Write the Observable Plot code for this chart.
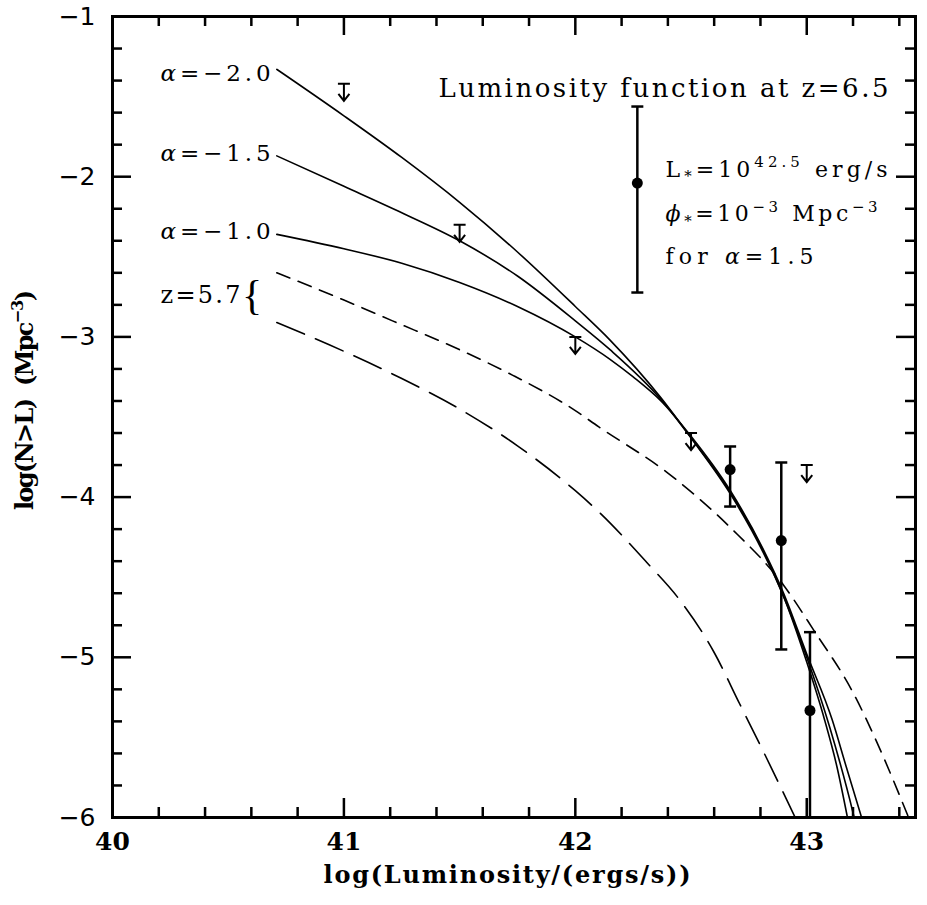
<!DOCTYPE html>
<html><head><meta charset="utf-8">
<script src="https://cdn.jsdelivr.net/npm/d3@7"></script>
<script src="https://cdn.jsdelivr.net/npm/@observablehq/plot@0.6"></script>
<style>html,body{margin:0;padding:0;background:#fff;} svg{display:block;}</style>
</head><body><div id="chart"></div>
<script>
// ---- data ----
const curveA20X = [40.71, 41.0, 41.25, 41.5, 41.75, 42.0, 42.15, 42.37, 42.5, 42.67, 42.81, 42.9, 43.0, 43.077, 43.13, 43.176];
const curveA20Y = [-1.33, -1.62, -1.88, -2.16, -2.47, -2.81, -3.02, -3.38, -3.63, -3.98, -4.34, -4.62, -5.03, -5.39, -5.68, -6.0];
const curveA15X = [40.71, 41.0, 41.25, 41.5, 41.75, 42.0, 42.15, 42.37, 42.5, 42.67, 42.81, 42.9, 43.0, 43.1, 43.2, 43.205];
const curveA15Y = [-1.87, -2.06, -2.225, -2.40, -2.62, -2.90, -3.08, -3.39, -3.63, -3.97, -4.33, -4.62, -5.0, -5.44, -5.97, -6.0];
const curveA10X = [40.71, 41.0, 41.25, 41.5, 41.75, 42.0, 42.15, 42.25, 42.37, 42.5, 42.67, 42.81, 42.9, 43.0, 43.11, 43.17, 43.237];
const curveA10Y = [-2.36, -2.45, -2.54, -2.66, -2.81, -3.00, -3.14, -3.25, -3.40, -3.62, -3.96, -4.32, -4.60, -4.98, -5.39, -5.68, -6.0];
const z57ShortX = [40.71, 41.0, 41.21, 41.5, 41.73, 42.0, 42.1, 42.4, 42.67, 42.9, 43.03, 43.2, 43.3, 43.44];
const z57ShortY = [-2.60, -2.77, -2.90, -3.08, -3.24, -3.46, -3.56, -3.85, -4.19, -4.55, -4.83, -5.22, -5.52, -6.0];
const z57LongX = [40.71, 41.0, 41.25, 41.5, 41.75, 42.0, 42.1, 42.31, 42.45, 42.6, 42.71, 42.82, 42.95];
const z57LongY = [-2.91, -3.09, -3.26, -3.45, -3.68, -3.96, -4.09, -4.41, -4.64, -4.97, -5.29, -5.61, -6.0];

const pointX = [42.268, 42.669, 42.89, 43.014];
const pointY = [-2.04, -3.828, -4.271, -5.332];
const pointHi = [-1.562, -3.684, -3.784, -4.843];
const pointLo = [-2.723, -4.059, -4.951, -6.4];

const limitX = [41.0, 41.5, 42.0, 42.5, 43.0];
const limitY = [-1.42, -2.30, -3.00, -3.60, -3.80];

const majorX = [40, 41, 42, 43];
const minorX = [40.2, 40.4, 40.6, 40.8, 41.2, 41.4, 41.6, 41.8, 42.2, 42.4, 42.6, 42.8, 43.2, 43.4];
const majorY = [-1, -2, -3, -4, -5, -6];
const minorY = [-1.2, -1.4, -1.6, -1.8, -2.2, -2.4, -2.6, -2.8, -3.2, -3.4, -3.6, -3.8, -4.2, -4.4, -4.6, -4.8, -5.2, -5.4, -5.6, -5.8];

const curveLabels = ["@{α}=−2.0", "@{α}=−1.5", "@{α}=−1.0"];
const curveLabelX = [40.683, 40.683, 40.683];
const curveLabelY = [-1.359, -1.858, -2.345];
const zLabel = ["z=5.7"];
const zLabelX = [40.553];
const zLabelY = [-2.742];
const braceLabel = ["{"];
const braceX = [40.603];
const braceY = [-2.74];
const titleText = ["Luminosity function at z=6.5"];
const titleX = [43.353];
const titleY = [-1.45];
const noteLines = ["L_{*}=10^{42.5} erg/s", "@{ϕ}_{*}=10^{−3} Mpc^{−3}", "for @{α}=1.5"];
const noteX = [42.39, 42.39, 42.39];
const noteY = [-1.955, -2.232, -2.503];
const xTitle = "log(Luminosity/(ergs/s))";
const yTitle = "log(N>L) \u00a0(Mpc^{−3})";

// ---- build ----
const rows = (xs, ys) => xs.map((x, i) => ({x, y: ys[i]}));
const points = pointX.map((x, i) => ({x, y: pointY[i], hi: pointHi[i], lo: pointLo[i]}));
const limits = rows(limitX, limitY);

const W = 927, H = 905, ML = 112, MR = 12, MT = 16, MB = 88;
const FW = W - ML - MR, FH = H - MT - MB;
const MAJ = 19, MIN = 10;

const arrowSymbol = {draw(c) { c.moveTo(-6, 0); c.lineTo(6, 0); c.moveTo(0, 0); c.lineTo(0, 17); c.moveTo(-5.5, 10); c.lineTo(0, 17); c.lineTo(5.5, 10); }};
const capSymbol = {draw(c) { c.moveTo(-6, 0); c.lineTo(6, 0); }};
const fmtMinus = d => (d < 0 ? "\u2212" : "") + Math.abs(d);
const serif = "DejaVu Serif";

const svg = Plot.plot({
  width: W, height: H,
  marginLeft: ML, marginRight: MR, marginTop: MT, marginBottom: MB,
  x: {domain: [40, 43.47]},
  y: {domain: [-6, -1]},
  style: {background: "#fff", color: "#000"},
  marks: [
    // curves
    Plot.line(rows(curveA20X, curveA20Y), {x: "x", y: "y", curve: "monotone-x", stroke: "black", strokeWidth: 1.6, clip: true}),
    Plot.line(rows(curveA15X, curveA15Y), {x: "x", y: "y", curve: "monotone-x", stroke: "black", strokeWidth: 1.6, clip: true}),
    Plot.line(rows(curveA10X, curveA10Y), {x: "x", y: "y", curve: "monotone-x", stroke: "black", strokeWidth: 1.6, clip: true}),
    Plot.line(rows(z57ShortX, z57ShortY), {x: "x", y: "y", curve: "monotone-x", stroke: "black", strokeWidth: 1.6, strokeDasharray: "14,9", clip: true}),
    Plot.line(rows(z57LongX, z57LongY), {x: "x", y: "y", curve: "monotone-x", stroke: "black", strokeWidth: 1.6, strokeDasharray: "30,12", clip: true}),
    // error bars
    Plot.ruleX(points, {x: "x", y1: "lo", y2: "hi", stroke: "black", strokeWidth: 2.5, clip: true}),
    Plot.dot(points, {x: "x", y: "hi", symbol: capSymbol, fill: "none", stroke: "black", strokeWidth: 2.5}),
    Plot.dot(points.filter(d => d.lo > -6), {x: "x", y: "lo", symbol: capSymbol, fill: "none", stroke: "black", strokeWidth: 2.5}),
    Plot.dot(points, {x: "x", y: "y", r: 5.5, fill: "black", stroke: "none"}),
    // upper limits
    Plot.dot(limits, {x: "x", y: "y", symbol: arrowSymbol, fill: "none", stroke: "black", strokeWidth: 2}),
    // frame and inward ticks on all four sides
    Plot.frame({stroke: "black", strokeWidth: 3}),
    Plot.tickX(majorX, {x: d => d, insetTop: FH - MAJ, stroke: "black", strokeWidth: 2.5}),
    Plot.tickX(majorX, {x: d => d, insetBottom: FH - MAJ, stroke: "black", strokeWidth: 2.5}),
    Plot.tickX(minorX, {x: d => d, insetTop: FH - MIN, stroke: "black", strokeWidth: 2.5}),
    Plot.tickX(minorX, {x: d => d, insetBottom: FH - MIN, stroke: "black", strokeWidth: 2.5}),
    Plot.tickY(majorY, {y: d => d, insetRight: FW - MAJ, stroke: "black", strokeWidth: 2.5}),
    Plot.tickY(majorY, {y: d => d, insetLeft: FW - MAJ, stroke: "black", strokeWidth: 2.5}),
    Plot.tickY(minorY, {y: d => d, insetRight: FW - MIN, stroke: "black", strokeWidth: 2.5}),
    Plot.tickY(minorY, {y: d => d, insetLeft: FW - MIN, stroke: "black", strokeWidth: 2.5}),
    // axes labels
    Plot.axisX(majorX, {tickSize: 0, tickPadding: 15, fontSize: 25, fontFamily: "DejaVu Serif", fontWeight: "bold", tickFormat: d => String(d), label: null}),
    Plot.axisY(majorY, {tickSize: 0, tickPadding: 17, fontSize: 25, fontFamily: "DejaVu Sans", tickFormat: fmtMinus, label: null}),
    Plot.text([xTitle], {frameAnchor: "bottom", dx: -7, dy: 65, fontSize: 24, fontFamily: "DejaVu Serif", fontWeight: "bold", fill: "black"}),
    Plot.text([yTitle], {frameAnchor: "left", dx: -87, dy: 93, rotate: -90, textAnchor: "start", fontSize: 24, fontFamily: "DejaVu Serif", fontWeight: "bold", fill: "black"}),
    // annotations
    Plot.text(curveLabels, {x: (d, i) => curveLabelX[i], y: (d, i) => curveLabelY[i], text: d => d, textAnchor: "end", fontSize: 23, fontFamily: serif, fill: "black"}),
    Plot.text(zLabel, {x: (d, i) => zLabelX[i], y: (d, i) => zLabelY[i], text: d => d, textAnchor: "end", fontSize: 24, fontFamily: serif, fill: "black"}),
    Plot.text(braceLabel, {x: (d, i) => braceX[i], y: (d, i) => braceY[i], text: d => d, fontSize: 42, fontFamily: "Liberation Serif", fill: "black"}),
    Plot.text(titleText, {x: (d, i) => titleX[i], y: (d, i) => titleY[i], text: d => d, textAnchor: "end", fontSize: 26, fontFamily: serif, fill: "black"}),
    Plot.text(noteLines, {x: (d, i) => noteX[i], y: (d, i) => noteY[i], text: d => d, textAnchor: "start", fontSize: 22, fontFamily: serif, fill: "black"})
  ]
});

// text widths as in the figure
const textWidths = new Map([
  ["@{α}=−2.0", 110], ["@{α}=−1.5", 110], ["@{α}=−1.0", 110], ["z=5.7", 80],
  ["Luminosity function at z=6.5", 450],
  ["L_{*}=10^{42.5} erg/s", 222], ["@{ϕ}_{*}=10^{−3} Mpc^{−3}", 212], ["for @{α}=1.5", 148],
  [xTitle, 367], [yTitle, 220]
]);
const NS = "http://www.w3.org/2000/svg";
svg.querySelectorAll("text").forEach(t => {
  const s = t.textContent;
  const w = textWidths.get(s);
  if (w) { t.setAttribute("textLength", w); t.setAttribute("lengthAdjust", "spacing"); }
  if (!/[\^_@]\{/.test(s)) return;
  while (t.firstChild) t.removeChild(t.firstChild);
  const re = /([\^_@])\{([^}]*)\}|([^\^_@]+)/g;
  let m, back = 0;
  while ((m = re.exec(s))) {
    const ts = document.createElementNS(NS, "tspan");
    if (m[3] !== undefined) {
      ts.textContent = m[3];
      if (back) { ts.setAttribute("dy", back + "em"); back = 0; }
    } else if (m[1] === "@") {
      ts.textContent = m[2];
      ts.setAttribute("font-style", "italic");
      if (back) { ts.setAttribute("dy", back + "em"); back = 0; }
    } else {
      const k = 0.68;
      const shift = m[1] === "^" ? -0.42 : 0.22;
      ts.textContent = m[2];
      ts.setAttribute("font-size", (k * 100) + "%");
      ts.setAttribute("dy", ((shift + back) / k).toFixed(3) + "em");
      back = -shift;
    }
    t.appendChild(ts);
  }
});
document.getElementById("chart").appendChild(svg);
</script>
</body></html>
